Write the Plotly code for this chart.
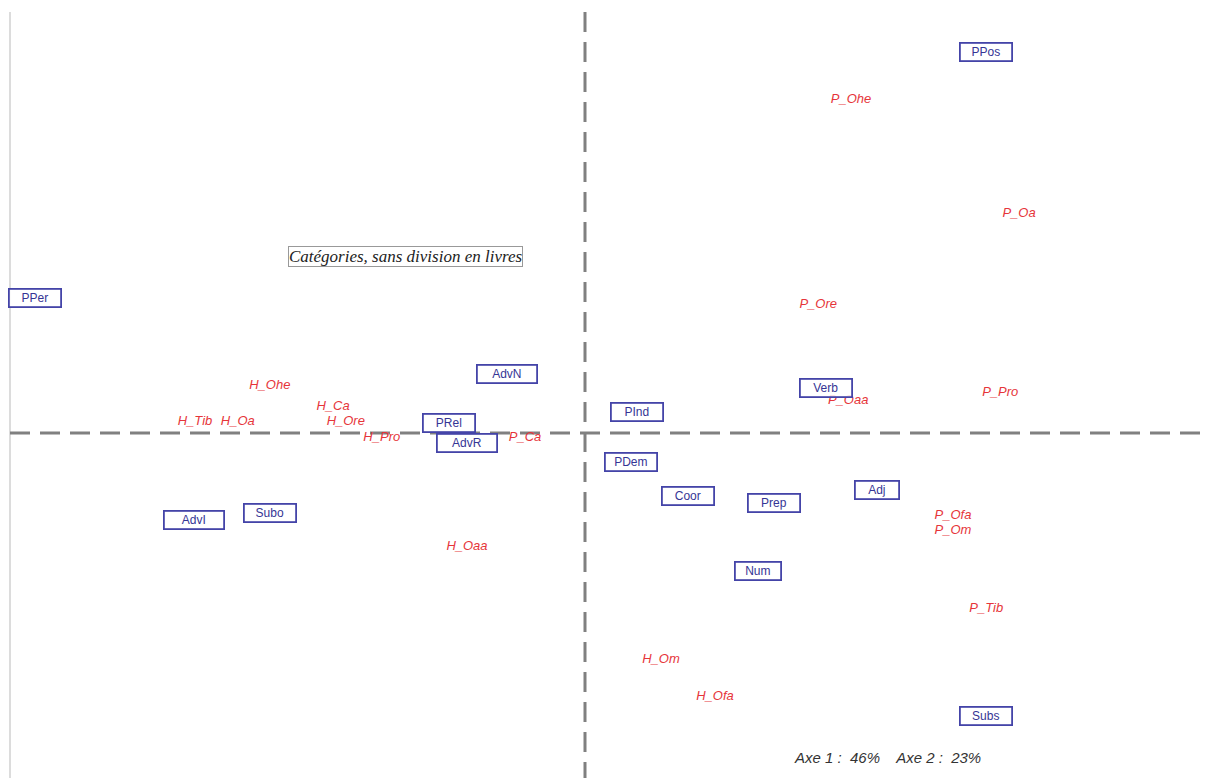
import plotly.graph_objects as go

# ---- data (factor scores on axis 1 / axis 2) ----
cat_labels = ["PPer", "PPos", "AdvN", "PRel", "AdvR", "PInd", "Verb", "PDem",
              "Coor", "Prep", "Adj", "Num", "AdvI", "Subo", "Subs"]
cat_x = [-1.375, 1.003, -0.195, -0.340, -0.295, 0.130, 0.603, 0.115,
         0.258, 0.473, 0.730, 0.433, -0.978, -0.788, 1.003]
cat_y = [0.338, 0.953, 0.148, 0.025, -0.025, 0.053, 0.113, -0.073,
         -0.158, -0.175, -0.143, -0.345, -0.218, -0.200, -0.708]

book_labels = ["P_Ohe", "P_Oa", "P_Ore", "P_Oaa", "P_Pro", "P_Ca", "P_Ofa", "P_Om", "P_Tib",
               "H_Ohe", "H_Ca", "H_Ore", "H_Tib", "H_Oa", "H_Pro", "H_Oaa", "H_Om", "H_Ofa"]
book_x = [0.665, 1.085, 0.583, 0.658, 1.038, -0.150, 0.920, 0.920, 1.003,
          -0.788, -0.630, -0.598, -0.975, -0.868, -0.508, -0.295, 0.190, 0.325]
book_y = [0.833, 0.548, 0.320, 0.080, 0.100, -0.013, -0.208, -0.245, -0.440,
          0.118, 0.065, 0.028, 0.028, 0.028, -0.013, -0.285, -0.568, -0.660]

title_text = "Catégories, sans division en livres"
inertia_text = "Axe 1 :  46%    Axe 2 :  23%"

# ---- figure ----
W, H = 1205, 778
fig = go.Figure()

fig.add_trace(go.Scatter(
    x=book_x, y=book_y, mode="text", text=book_labels,
    textposition="middle center",
    textfont=dict(family="Liberation Sans, Arial", size=13, color="#e6353a", style="italic"),
    hoverinfo="text", showlegend=False,
))

box_w = {"AdvN": 56, "AdvR": 56, "AdvI": 56, "Adj": 40, "Num": 42}
annotations = []
for lab, x, y in zip(cat_labels, cat_x, cat_y):
    annotations.append(dict(
        x=x, y=y, xref="x", yref="y", text=lab, showarrow=False,
        font=dict(family="Liberation Sans, Arial", size=12, color="#353595"),
        bordercolor="#4444a8", borderwidth=1.8, borderpad=1,
        bgcolor="rgba(255,255,255,0.85)",
        width=box_w.get(lab, 48), height=14, align="center",
    ))

annotations.append(dict(
    x=405, y=256, xref="x2", yref="y2", text=title_text, showarrow=False,
    font=dict(family="Liberation Serif, Times New Roman", size=17, color="#222222", style="italic"),
    bordercolor="#999999", borderwidth=1, borderpad=0, bgcolor="white",
))
annotations.append(dict(
    x=887, y=757, xref="x2", yref="y2", text=inertia_text, showarrow=False,
    font=dict(family="Liberation Sans, Arial", size=15, color="#333333", style="italic"),
))

# pixel-space helper axes (invisible) for the fixed text blocks
fig.add_trace(go.Scatter(x=[0, W], y=[0, H], xaxis="x2", yaxis="y2", mode="markers",
                         marker=dict(opacity=0), hoverinfo="skip", showlegend=False))

px_per_unit = 400.0
ox, oy = 585, 433
xr = [(0 - ox) / px_per_unit, (W - ox) / px_per_unit]
yr = [(oy - H) / px_per_unit, (oy - 0) / px_per_unit]
top_y = (oy - 12) / px_per_unit
left_x = (10 - ox) / px_per_unit

shapes = [
    dict(type="line", xref="x", yref="y", x0=left_x, x1=left_x, y0=top_y, y1=yr[0],
         line=dict(color="#d0d0d0", width=1.5), layer="below"),
    dict(type="line", xref="x", yref="y", x0=0, x1=0, y0=top_y, y1=yr[0],
         line=dict(color="#808080", width=3, dash="20px,10px"), layer="below"),
    dict(type="line", xref="x", yref="y", x0=left_x, x1=xr[1], y0=0, y1=0,
         line=dict(color="#808080", width=3, dash="20px,10px"), layer="below"),
]

fig.update_layout(
    width=W, height=H, margin=dict(l=0, r=0, t=0, b=0),
    paper_bgcolor="white", plot_bgcolor="white",
    xaxis=dict(range=xr, visible=False, fixedrange=True),
    yaxis=dict(range=yr, visible=False, fixedrange=True),
    xaxis2=dict(range=[0, W], visible=False, overlaying="x", fixedrange=True),
    yaxis2=dict(range=[H, 0], visible=False, overlaying="y", fixedrange=True),
    annotations=annotations, shapes=shapes, showlegend=False,
)

fig.write_html("out.html")
